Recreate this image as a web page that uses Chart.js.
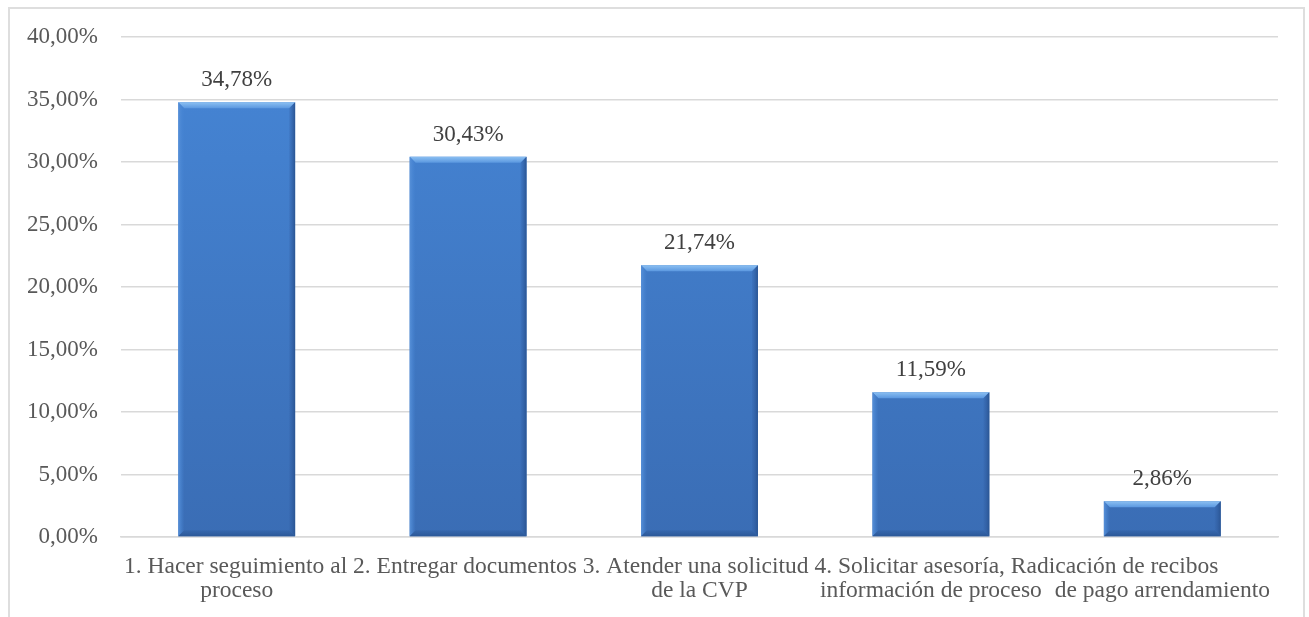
<!DOCTYPE html>
<html lang="es">
<head>
<meta charset="utf-8">
<title>Motivo de la visita</title>
<script src="https://cdn.jsdelivr.net/npm/chart.js@4.4.1/dist/chart.umd.min.js"></script>
<style>
  html, body { margin: 0; padding: 0; background: #ffffff; }
  #wrap { position: relative; width: 1309px; height: 617px; overflow: hidden; }
  #frame { position: absolute; left: 8px; top: 7px; width: 1297px; height: 700px;
           border: 2px solid #dedede; box-sizing: border-box; pointer-events: none; }
  canvas { position: absolute; left: 0; top: 0; }
</style>
</head>
<body>
<div id="wrap">
  <canvas id="chart" width="1309" height="617"></canvas>
  <div id="frame"></div>
</div>
<script>
// Category labels, already split into the two lines they are printed on
const categoryLines = [
  ['1. Hacer seguimiento al', 'proceso'],
  ['2. Entregar documentos', ''],
  ['3. Atender una solicitud', 'de la CVP'],
  ['4. Solicitar asesoría,', 'información de proceso'],
  ['Radicación de recibos', 'de pago arrendamiento']
];
// Share of visits per reason (%)
const shares = [34.78, 30.43, 21.74, 11.59, 2.86];
// Value axis range and step (%)
const axisMin = 0;
const axisMax = 40;
const axisStep = 5;

const FONT = '"Liberation Serif", "Times New Roman", serif';
const fmtPct = v => v.toFixed(2).replace('.', ',') + '%';

// Vertical fill for each bar
function barFill(ctx) {
  const chart = ctx.chart;
  const area = chart.chartArea;
  if (!area) return '#3f7dcc';
  const g = chart.ctx.createLinearGradient(0, area.top, 0, area.bottom);
  g.addColorStop(0, '#4686d6');
  g.addColorStop(1, '#3a6db5');
  return g;
}

// Bevel highlights on each bar: light top edge, darker right edge, dark foot
const bevelPlugin = {
  id: 'bevel',
  afterDatasetsDraw(chart) {
    const c = chart.ctx;
    const meta = chart.getDatasetMeta(0);
    meta.data.forEach(el => {
      const { x, y, base, width } = el.getProps(['x', 'y', 'base', 'width'], true);
      const l = x - width / 2, r = x + width / 2;
      const h = base - y;
      const b = Math.min(6, h / 2);
      c.save();
      // top bevel
      let g = c.createLinearGradient(0, y, 0, y + b);
      g.addColorStop(0, '#8cc0f2');
      g.addColorStop(1, '#5b98e0');
      c.fillStyle = g;
      c.beginPath();
      c.moveTo(l, y); c.lineTo(r, y); c.lineTo(r - b, y + b); c.lineTo(l + b, y + b); c.closePath();
      c.fill();
      // left bevel
      g = c.createLinearGradient(l, 0, l + b, 0);
      g.addColorStop(0, '#5790d8');
      g.addColorStop(1, 'rgba(70,134,214,0)');
      c.fillStyle = g;
      c.beginPath();
      c.moveTo(l, y); c.lineTo(l + b, y + b); c.lineTo(l + b, base - b); c.lineTo(l, base); c.closePath();
      c.fill();
      // right bevel
      g = c.createLinearGradient(r - b, 0, r, 0);
      g.addColorStop(0, 'rgba(50,95,165,0.2)');
      g.addColorStop(1, '#2a5593');
      c.fillStyle = g;
      c.beginPath();
      c.moveTo(r, y); c.lineTo(r, base); c.lineTo(r - b, base - b); c.lineTo(r - b, y + b); c.closePath();
      c.fill();
      // bottom bevel
      g = c.createLinearGradient(0, base - b, 0, base);
      g.addColorStop(0, 'rgba(45,90,155,0.3)');
      g.addColorStop(1, '#2c5897');
      c.fillStyle = g;
      c.beginPath();
      c.moveTo(l, base); c.lineTo(r, base); c.lineTo(r - b, base - b); c.lineTo(l + b, base - b); c.closePath();
      c.fill();
      c.restore();
    });
  }
};

// Percentage printed above each bar
const valueLabelPlugin = {
  id: 'valueLabels',
  afterDatasetsDraw(chart) {
    const c = chart.ctx;
    const ds = chart.data.datasets[0];
    c.save();
    c.font = '23px ' + FONT;
    c.fillStyle = '#404040';
    c.textAlign = 'center';
    c.textBaseline = 'alphabetic';
    chart.getDatasetMeta(0).data.forEach((el, i) => {
      c.fillText(fmtPct(ds.data[i]), el.x, el.y - 16);
    });
    c.restore();
  }
};

// Category text under the axis: first lines run on as one row, second lines sit under their bar
const categoryTextPlugin = {
  id: 'categoryText',
  afterDraw(chart) {
    const c = chart.ctx;
    const xs = chart.scales.x;
    const area = chart.chartArea;
    const labels = chart.data.labels;
    c.save();
    c.font = '23.5px ' + FONT;
    c.fillStyle = '#595959';
    c.textBaseline = 'alphabetic';
    c.textAlign = 'left';
    const row1 = labels.map(l => l[0]).join(' ');
    c.fillText(row1, area.left + 3, area.bottom + 36);
    c.textAlign = 'center';
    labels.forEach((l, i) => {
      if (l[1]) c.fillText(l[1], xs.getPixelForValue(i), area.bottom + 60);
    });
    c.restore();
  }
};

new Chart(document.getElementById('chart'), {
  type: 'bar',
  data: {
    labels: categoryLines,
    datasets: [{
      data: shares,
      backgroundColor: barFill,
      borderWidth: 0,
      barPercentage: 0.505,
      categoryPercentage: 1
    }]
  },
  options: {
    responsive: false,
    animation: false,
    devicePixelRatio: 1,
    layout: { padding: { left: 0, right: 31, top: 37, bottom: 0 } },
    plugins: { legend: { display: false }, tooltip: { enabled: false } },
    scales: {
      x: {
        grid: { display: false, drawTicks: false },
        border: { display: true, color: '#d9d9d9', width: 1.5 },
        ticks: { display: false },
        afterFit(scale) { scale.height = 80; }
      },
      y: {
        min: axisMin,
        max: axisMax,
        ticks: {
          stepSize: axisStep,
          padding: 23,
          color: '#595959',
          font: { family: FONT, size: 23 },
          callback: v => fmtPct(v)
        },
        grid: { color: '#d9d9d9', lineWidth: 1.5, drawTicks: false },
        border: { display: false },
        afterFit(scale) { scale.width = 121; }
      }
    }
  },
  plugins: [bevelPlugin, valueLabelPlugin, categoryTextPlugin]
});
</script>
</body>
</html>
